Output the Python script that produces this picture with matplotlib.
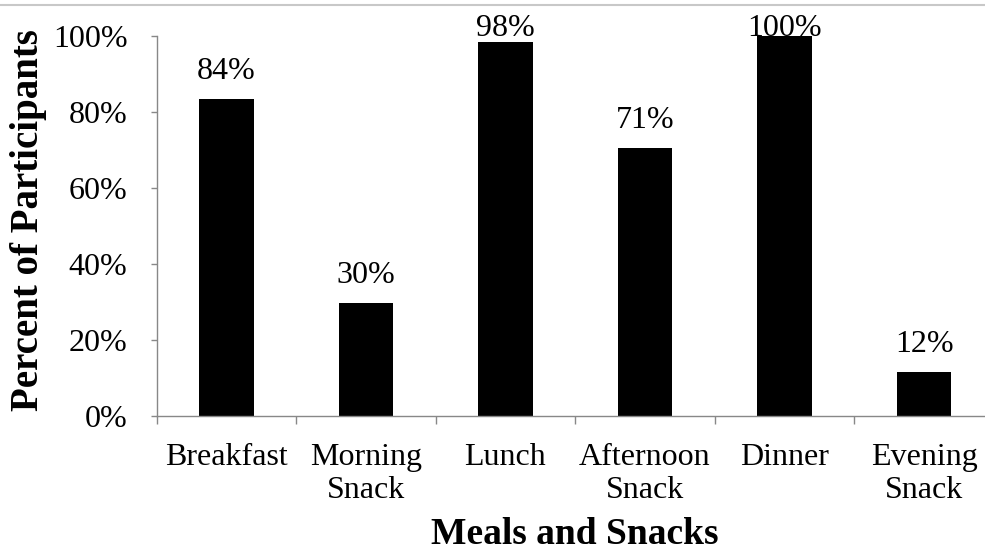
import matplotlib.pyplot as plt
from matplotlib.lines import Line2D
from matplotlib.ticker import FuncFormatter

categories = ["Breakfast", "Morning\nSnack", "Lunch", "Afternoon\nSnack", "Dinner", "Evening\nSnack"]
percent = [83.5, 29.7, 98.4, 70.5, 100.0, 11.6]
labels = ["84%", "30%", "98%", "71%", "100%", "12%"]
yticks = [0, 20, 40, 60, 80, 100]

plt.rcParams["font.family"] = ["Liberation Serif", "DejaVu Serif"]

fig = plt.figure(figsize=(9.85, 5.52), dpi=100)
ax = fig.add_axes([0.159, 0.246, 0.850, 0.689])

x = list(range(len(categories)))
ax.bar(x, percent, width=0.39, color="black")

# labels sit above the bars, but are kept inside the chart area at the top
for xi, v, lab in zip(x, percent, labels):
    ax.text(xi, min(v + 3.4, 98.0), lab, ha="center", va="bottom", fontsize=23,
            clip_on=False)

ax.set_xlim(-0.5, len(categories) - 0.5)
ax.set_ylim(0, 100)
ax.set_yticks(yticks)
ax.yaxis.set_major_formatter(FuncFormatter(lambda v, p: f"{v:.0f}%"))
ax.set_xticks(x)
ax.set_xticklabels(categories, fontsize=23, linespacing=1.18)
ax.set_xticks([i - 0.5 for i in range(len(categories) + 1)], minor=True)
ax.tick_params(axis="x", which="major", length=0, pad=19)
ax.tick_params(axis="x", which="minor", length=6, color="#888888", width=1)
ax.tick_params(axis="y", length=4, color="#888888", width=1, labelsize=23, pad=17)

for s in ["top", "right"]:
    ax.spines[s].set_visible(False)
for s in ["left", "bottom"]:
    ax.spines[s].set_color("#888888")
    ax.spines[s].set_linewidth(1)

ax.set_ylabel("Percent of Participants", fontsize=28, fontweight="bold")
ax.yaxis.set_label_coords(-0.131, 0.515)
ax.set_xlabel("Meals and Snacks", fontsize=27, fontweight="bold", labelpad=9)

fig.add_artist(Line2D([0, 1], [0.991, 0.991], color="#c8c8c8", lw=1.5, transform=fig.transFigure))

fig.savefig("out.png", dpi=100)
